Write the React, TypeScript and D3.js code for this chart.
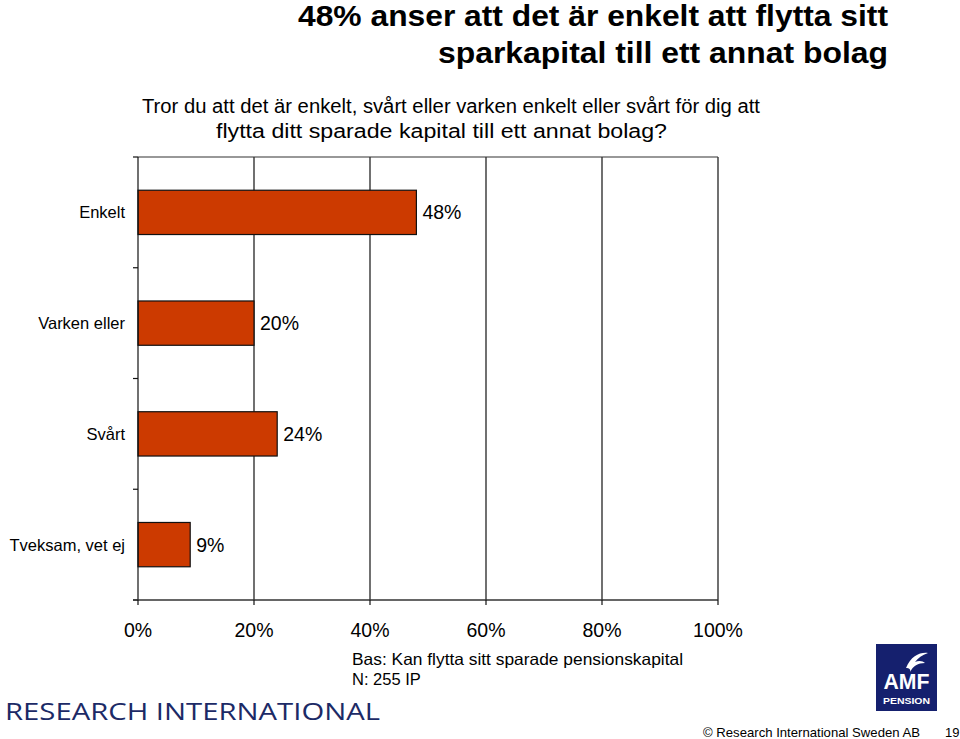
import React from "react";
import * as d3 from "d3";

const categories = ["Enkelt", "Varken eller", "Svårt", "Tveksam, vet ej"];
const values = [48, 20, 24, 9];
const xTicks = [0, 20, 40, 60, 80, 100];

const titleLines = [
  "48% anser att det är enkelt att flytta sitt",
  "sparkapital till ett annat bolag",
];
const subtitleLines = [
  "Tror du att det är enkelt, svårt eller varken enkelt eller svårt för dig att",
  "flytta ditt sparade kapital till ett annat bolag?",
];
const footnoteLines = ["Bas: Kan flytta sitt sparade pensionskapital", "N: 255 IP"];

const FONT = "'Liberation Sans', Arial, sans-serif";

export default function App() {
  const left = 138, right = 718, top = 157, bottom = 600;
  const x = d3.scaleLinear().domain([0, 100]).range([left, right]);
  const y = d3
    .scaleBand<string>()
    .domain(categories)
    .range([top, bottom])
    .paddingInner(0.6)
    .paddingOuter(0.3);
  const step = y.step();
  const boundaries = d3.range(categories.length + 1).map((i) => top + i * step);

  return (
    <svg
      width={960}
      height={739}
      style={{ position: "absolute", left: 0, top: 0, background: "#fff" }}
      fontFamily={FONT}
    >
      <rect x={0} y={0} width={960} height={739} fill="#fff" />
      {/* Title */}
      <text x={888} y={26} textAnchor="end" fontSize={30} fontWeight="bold" textLength={590} lengthAdjust="spacingAndGlyphs">
        {titleLines[0]}
      </text>
      <text x={888} y={63} textAnchor="end" fontSize={30} fontWeight="bold" textLength={450} lengthAdjust="spacingAndGlyphs">
        {titleLines[1]}
      </text>
      {/* Subtitle */}
      <text x={142} y={113} fontSize={20} textLength={618} lengthAdjust="spacingAndGlyphs">
        {subtitleLines[0]}
      </text>
      <text x={216} y={138} fontSize={20} textLength={451} lengthAdjust="spacingAndGlyphs">
        {subtitleLines[1]}
      </text>

      {/* Gridlines */}
      {xTicks.slice(1).map((t) => (
        <line key={"g" + t} x1={x(t)} x2={x(t)} y1={top} y2={bottom} stroke="#111" strokeWidth={1.2} />
      ))}
      {/* Top border */}
      <line x1={left} x2={right} y1={top} y2={top} stroke="#333" strokeWidth={1.2} />

      {/* Bars */}
      {categories.map((c, i) => (
        <g key={c}>
          <rect
            x={x(0)}
            y={y(c)!}
            width={x(values[i]) - x(0)}
            height={y.bandwidth()}
            fill="#CC3A00"
            stroke="#111"
            strokeWidth={1.2}
          />
          <text
            x={x(values[i]) + 6}
            y={y(c)! + y.bandwidth() / 2}
            dy="0.36em"
            fontSize={19.5}
          >
            {values[i]}%
          </text>
          <text
            x={125}
            y={y(c)! + y.bandwidth() / 2}
            dy="0.36em"
            textAnchor="end"
            fontSize={16.5}
          >
            {c}
          </text>
        </g>
      ))}

      {/* Y axis */}
      <line x1={left} x2={left} y1={top} y2={bottom} stroke="#111" strokeWidth={1.2} />
      {boundaries.map((b, i) => (
        <line key={"yt" + i} x1={left - 5} x2={left} y1={b} y2={b} stroke="#111" strokeWidth={1.2} />
      ))}
      {/* X axis */}
      <line x1={left - 5} x2={right} y1={bottom} y2={bottom} stroke="#333" strokeWidth={1.4} />
      {xTicks.map((t) => (
        <g key={"xt" + t}>
          <line x1={x(t)} x2={x(t)} y1={bottom} y2={bottom + 5} stroke="#111" strokeWidth={1.2} />
          <text x={x(t)} y={637} textAnchor="middle" fontSize={19.5}>
            {t}%
          </text>
        </g>
      ))}

      {/* Footnote */}
      <text x={352} y={665} fontSize={16.5} textLength={331} lengthAdjust="spacingAndGlyphs">
        {footnoteLines[0]}
      </text>
      <text x={352} y={685} fontSize={16.5}>
        {footnoteLines[1]}
      </text>

      {/* Research International logo */}
      <text x={5} y={720} fontSize={23} fill="#1c2a66" fontFamily="'Open Sans', 'DejaVu Sans', sans-serif" textLength={375} lengthAdjust="spacingAndGlyphs">
        RESEARCH INTERNATIONAL
      </text>

      {/* AMF logo */}
      <rect x={876} y={644} width={61} height={67} fill="#15206e" />
      <path d="M906,668 C911,656 920,652 928,653 C922,655 918,658 915,662 C919,660 923,661 925,663 C918,663 913,666 910,672 C911,669 909,668 906,668 Z" fill="#fff" />
      <text x={906.5} y={689} textAnchor="middle" fontSize={22} fontWeight="bold" fill="#fff" textLength={46} lengthAdjust="spacingAndGlyphs">
        AMF
      </text>
      <text x={906.5} y={703.5} textAnchor="middle" fontSize={9} fontWeight="bold" fill="#fff" textLength={47} lengthAdjust="spacingAndGlyphs">
        PENSION
      </text>

      {/* Copyright */}
      <text x={703} y={737} fontSize={13} textLength={217} lengthAdjust="spacingAndGlyphs">
        © Research International Sweden AB
      </text>
      <text x={945} y={737} fontSize={13}>
        19
      </text>
    </svg>
  );
}
